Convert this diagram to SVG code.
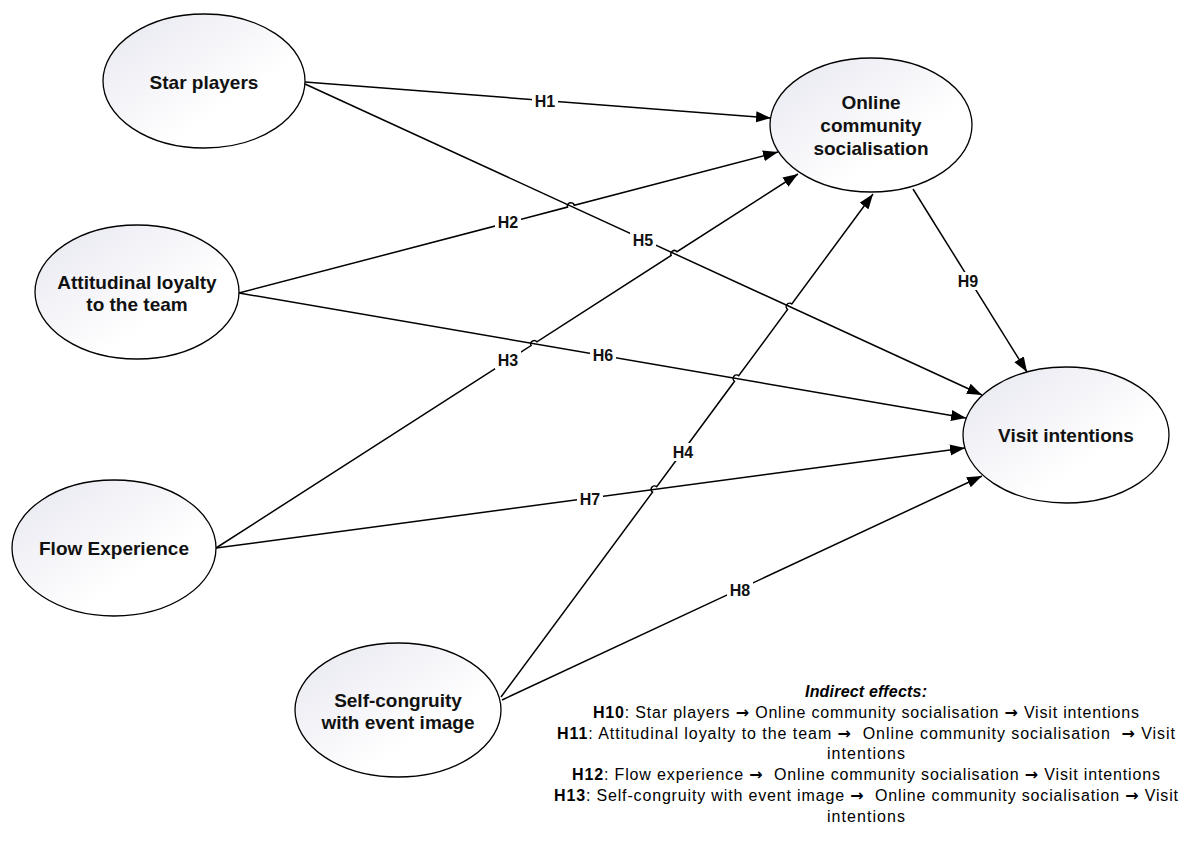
<svg xmlns="http://www.w3.org/2000/svg" width="1190" height="843" viewBox="0 0 1190 843">
<defs>
<linearGradient id="g" x1="0" y1="0" x2="1" y2="1">
<stop offset="0" stop-color="#e6e6f0"/>
<stop offset="0.65" stop-color="#ffffff"/>
<stop offset="1" stop-color="#ffffff"/>
</linearGradient>
<marker id="arr" markerUnits="userSpaceOnUse" markerWidth="16" markerHeight="12" refX="15" refY="6" orient="auto">
<path d="M0,0.5 L15,6 L0,11.5 Z" fill="#000"/>
</marker>
<style>
.n{fill:url(#g);stroke:#000;stroke-width:1.3}
.t{font-family:"Liberation Sans",Arial,sans-serif;font-weight:bold;font-size:19px;text-anchor:middle;fill:#111}
.e{fill:none;stroke:#000;stroke-width:1.5;marker-end:url(#arr)}
.lb{fill:#fff}
.l{font-family:"Liberation Sans",Arial,sans-serif;font-weight:bold;font-size:16px;text-anchor:middle;fill:#111}
.x{font-family:"Liberation Sans",Arial,sans-serif;font-size:16px;text-anchor:middle;fill:#000;white-space:pre}
.a{font-family:"DejaVu Sans",sans-serif;font-weight:bold}
</style>
</defs>
<rect width="1190" height="843" fill="#fff"/>
<g id="connectors">
<path id="H1" class="e" d="M305,82 L771,118"/>
<path id="H5" class="e" d="M305,84 L982,395"/>
<path id="H2" class="e" d="M239,293 L567.5,207.1 A3.5,3.5 0 0 1 574.3,205.3 L778,152"/>
<path id="H6" class="e" d="M239,293 L966,418"/>
<path id="H3" class="e" d="M216,548 L531.1,345.6 A3.5,3.5 0 0 1 536.9,341.8 L671.2,255.5 A3.5,3.5 0 0 1 677,251.7 L798,174"/>
<path id="H7" class="e" d="M216,548 L965,448"/>
<path id="H4" class="e" d="M501,697 L652.5,492.2 A3.5,3.5 0 0 1 656.7,486.6 L734.5,381.3 A3.5,3.5 0 0 1 738.7,375.7 L787.6,309.5 A3.5,3.5 0 0 1 791.8,303.9 L873,194"/>
<path id="H8" class="e" d="M502,700 L982,476"/>
<path id="H9" class="e" d="M913,189 L1027,372"/>
<g id="labels">
<rect class="lb" x="532" y="92" width="26" height="18"/><text class="l" x="545" y="106.5">H1</text>
<rect class="lb" x="495" y="213" width="26" height="18"/><text class="l" x="508" y="227.5">H2</text>
<rect class="lb" x="630" y="231" width="26" height="18"/><text class="l" x="643" y="245.5">H5</text>
<rect class="lb" x="495" y="351" width="26" height="18"/><text class="l" x="508" y="365.5">H3</text>
<rect class="lb" x="590" y="346" width="26" height="18"/><text class="l" x="603" y="360.5">H6</text>
<rect class="lb" x="670" y="443" width="26" height="18"/><text class="l" x="683" y="457.5">H4</text>
<rect class="lb" x="577" y="490" width="26" height="18"/><text class="l" x="590" y="504.5">H7</text>
<rect class="lb" x="727" y="581" width="26" height="18"/><text class="l" x="740" y="595.5">H8</text>
<rect class="lb" x="955" y="272" width="26" height="18"/><text class="l" x="968" y="286.5">H9</text>
</g>
</g>
<g id="star"><ellipse class="n" cx="204" cy="81" rx="101" ry="67"/><text class="t" x="204" y="89">Star players</text></g>
<g id="ocs"><ellipse class="n" cx="871" cy="125" rx="101" ry="67"/><text class="t" x="871" y="109">Online</text><text class="t" x="871" y="132">community</text><text class="t" x="871" y="155">socialisation</text></g>
<g id="att"><ellipse class="n" cx="137" cy="292" rx="102" ry="67"/><text class="t" x="137" y="289">Attitudinal loyalty</text><text class="t" x="137" y="311">to the team</text></g>
<g id="visit"><ellipse class="n" cx="1066" cy="435" rx="103" ry="68"/><text class="t" x="1066" y="442">Visit intentions</text></g>
<g id="flow"><ellipse class="n" cx="114" cy="548" rx="102" ry="68"/><text class="t" x="114" y="555">Flow Experience</text></g>
<g id="self"><ellipse class="n" cx="398" cy="710" rx="103" ry="67"/><text class="t" x="398" y="707">Self-congruity</text><text class="t" x="398" y="729">with event image</text></g>
<g id="indirect">
<text class="x" x="866" y="697" font-weight="bold" font-style="italic" textLength="122" lengthAdjust="spacing">Indirect effects:</text>
<text class="x" x="866" y="718" textLength="546" lengthAdjust="spacing"><tspan font-weight="bold">H10</tspan>: Star players <tspan class="a">→</tspan> Online community socialisation <tspan class="a">→</tspan> Visit intentions</text>
<text class="x" x="866" y="739" textLength="618" lengthAdjust="spacing"><tspan font-weight="bold">H11</tspan>: Attitudinal loyalty to the team <tspan class="a">→</tspan>  Online community socialisation  <tspan class="a">→</tspan> Visit</text>
<text class="x" x="866" y="759" textLength="78" lengthAdjust="spacing">intentions</text>
<text class="x" x="866" y="780" textLength="588" lengthAdjust="spacing"><tspan font-weight="bold">H12</tspan>: Flow experience <tspan class="a">→</tspan>  Online community socialisation <tspan class="a">→</tspan> Visit intentions</text>
<text class="x" x="866" y="801" textLength="624" lengthAdjust="spacing"><tspan font-weight="bold">H13</tspan>: Self-congruity with event image <tspan class="a">→</tspan>  Online community socialisation <tspan class="a">→</tspan> Visit</text>
<text class="x" x="866" y="822" textLength="78" lengthAdjust="spacing">intentions</text>
</g>
</svg>
